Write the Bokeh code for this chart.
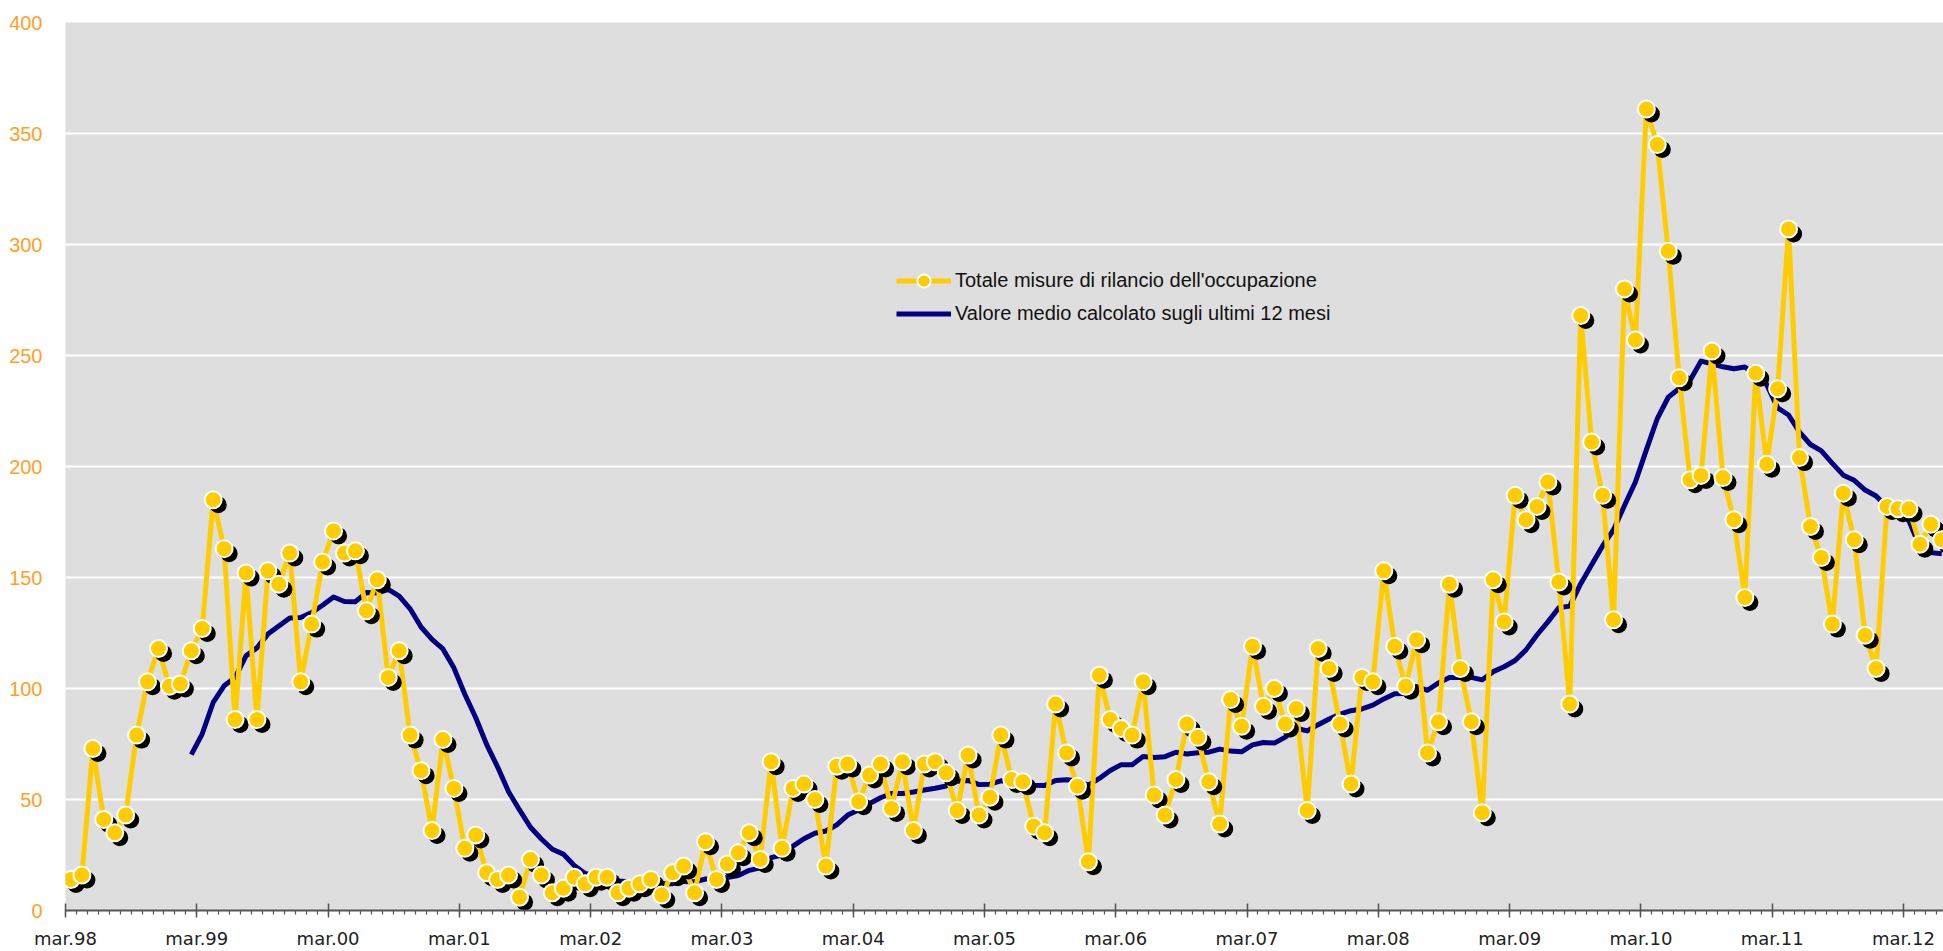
import numpy as np
from bokeh.plotting import figure
from bokeh.models import FixedTicker, Legend, LegendItem, ColumnDataSource, Range1d
from bokeh.transform import dodge
from bokeh.embed import file_html
from bokeh.resources import INLINE

# ---- data ----
tick_labels = ["mar.98", "mar.99", "mar.00", "mar.01", "mar.02", "mar.03", "mar.04",
               "mar.05", "mar.06", "mar.07", "mar.08", "mar.09", "mar.10", "mar.11", "mar.12"]

totale = [
    14, 16, 73, 41, 35, 43, 79, 103, 118, 101, 102, 117,
    127, 185, 163, 86, 152, 86, 153, 147, 161, 103, 129, 157,
    171, 161, 162, 135, 149, 105, 117, 79, 63, 36, 77, 55,
    28, 34, 17, 14, 16, 6, 23, 16, 8, 10, 15, 12,
    15, 15, 8, 10, 12, 14, 7, 17, 20, 8, 31, 14,
    21, 26, 35, 23, 67, 28, 55, 57, 50, 20, 65, 66,
    49, 61, 66, 46, 67, 36, 66, 67, 62, 45, 70, 43,
    51, 79, 59, 58, 38, 35, 93, 71, 56, 22, 106, 86,
    82, 79, 103, 52, 43, 59, 84, 78, 58, 39, 95, 83,
    119, 92, 100, 84, 91, 45, 118, 109, 84, 57, 105, 103,
    153, 119, 101, 122, 71, 85, 147, 109, 85, 44, 149, 130,
    187, 176, 182, 193, 148, 93, 268, 211, 187, 131, 280, 257,
    361, 345, 297, 240, 194, 196, 252, 195, 176, 141, 242, 201,
    235, 307, 204, 173, 159, 129, 188, 167, 124, 109, 182, 181,
    181, 165, 174, 167,
]

media_start = 11
media = [
    70.2,
    79.6, 93.7, 101.2, 104.9, 114.7, 118.3, 124.5, 128.2, 131.8, 132.0, 134.2, 137.5,
    141.2, 139.2, 139.1, 143.2, 143.0, 144.6, 141.6, 135.9, 127.7, 122.1, 117.8, 109.3,
    97.4, 86.8, 74.7, 64.6, 53.5, 45.3, 37.5, 32.2, 27.6, 25.4, 20.3, 16.7,
    15.6, 14.0, 13.3, 12.9, 12.6, 13.3, 12.0, 12.1, 13.1, 12.9, 14.2, 14.4,
    14.9, 15.8, 18.1, 19.2, 23.8, 25.0, 29.0, 32.3, 34.8, 35.8, 38.6, 43.0,
    45.3, 48.2, 50.8, 52.7, 52.7, 53.4, 54.3, 55.1, 56.1, 58.2, 58.6, 56.7,
    56.9, 58.4, 57.8, 58.8, 56.4, 56.3, 58.6, 58.9, 58.4, 56.5, 59.5, 63.1,
    65.7, 65.7, 69.4, 68.9, 69.3, 71.3, 70.5, 71.1, 71.3, 72.7, 71.8, 71.5,
    74.6, 75.7, 75.4, 78.1, 82.1, 80.9, 83.7, 86.3, 88.5, 90.0, 90.8, 92.5,
    95.3, 97.6, 97.7, 100.9, 99.2, 102.5, 104.9, 104.9, 105.0, 103.9, 107.6, 109.8,
    112.6, 117.4, 124.1, 130.0, 136.4, 137.1, 147.2, 155.7, 164.2, 171.5, 182.4, 193.0,
    207.5, 221.6, 231.2, 235.1, 238.9, 247.5, 246.2, 244.9, 244.0, 244.8, 241.6, 236.9,
    226.4, 223.2, 215.5, 209.9, 207.0, 201.4, 196.1, 193.8, 189.4, 186.7, 181.7, 180.0,
    175.5, 163.7, 161.2, 160.7,
]

label_totale = "Totale misure di rilancio dell'occupazione"
label_media = "Valore medio calcolato sugli ultimi 12 mesi"

# ---- derived positions (month index, centred in each month slot) ----
n = len(totale)
month_x = np.arange(n) + 0.5
src_tot = ColumnDataSource(dict(x=month_x, y=totale))
src_med = ColumnDataSource(dict(x=month_x[media_start:media_start + len(media)], y=media))

YELLOW = "#FFCC00"
NAVY = "#000080"
ORANGE = "#FFA028"

p = figure(width=1943, height=951, output_backend="svg", toolbar_location=None,
           x_range=Range1d(0, 171.66), y_range=Range1d(0, 400),
           min_border_left=65, min_border_right=0, min_border_top=22, min_border_bottom=41)
p.background_fill_color = "#DEDEDE"
p.border_fill_color = "white"
p.outline_line_color = None

# grid
p.xgrid.grid_line_color = None
p.ygrid.grid_line_color = "white"
p.ygrid.grid_line_width = 2

# y axis
p.yaxis.ticker = FixedTicker(ticks=list(range(0, 401, 50)))
p.yaxis.axis_line_color = None
p.yaxis.major_tick_line_color = None
p.yaxis.minor_tick_line_color = None
p.yaxis.major_label_text_color = ORANGE
p.yaxis.major_label_text_font = "Liberation Sans"
p.yaxis.major_label_text_font_size = "20px"
p.yaxis.major_label_standoff = 17

# x axis
year_ticks = [12 * k for k in range(len(tick_labels))]
p.xaxis.ticker = FixedTicker(ticks=year_ticks, minor_ticks=list(range(0, 173)))
p.xaxis.major_label_overrides = {t: lab for t, lab in zip(year_ticks, tick_labels)}
p.xaxis.axis_line_color = "#555555"
p.xaxis.axis_line_width = 2
p.xaxis.major_tick_line_color = "#555555"
p.xaxis.major_tick_line_width = 1.5
p.xaxis.major_tick_in = 7
p.xaxis.major_tick_out = 7
p.xaxis.minor_tick_line_color = "#555555"
p.xaxis.minor_tick_line_width = 1.2
p.xaxis.minor_tick_in = 0
p.xaxis.minor_tick_out = 4
p.xaxis.major_label_text_color = "#222222"
p.xaxis.major_label_text_font = "DejaVu Sans"
p.xaxis.major_label_text_font_size = "18px"
p.xaxis.major_label_standoff = 10

# series
r_med = p.line("x", "y", source=src_med, line_color=NAVY, line_width=5, line_join="round")
r_tot_line = p.line("x", "y", source=src_tot, line_color=YELLOW, line_width=5, line_join="round")
p.scatter(x=dodge("x", 0.46), y=dodge("y", -2.25), source=src_tot, size=17,
          fill_color="black", line_color=None)
r_tot_mark = p.scatter("x", "y", source=src_tot, size=17, fill_color=YELLOW,
                       line_color="white", line_width=2)

legend = Legend(items=[
    LegendItem(label=label_totale, renderers=[r_tot_line, r_tot_mark]),
    LegendItem(label=label_media, renderers=[r_med]),
], location=(831, 580))
legend.background_fill_alpha = 0
legend.border_line_alpha = 0
legend.padding = 0
legend.margin = 0
legend.spacing = 0
legend.glyph_width = 55
legend.glyph_height = 33
legend.label_height = 33
legend.label_standoff = 4
legend.label_text_font = "Liberation Sans"
legend.label_text_font_size = "20px"
legend.label_text_color = "#111111"
p.add_layout(legend)

open("out.html", "w").write(file_html(p, INLINE))
